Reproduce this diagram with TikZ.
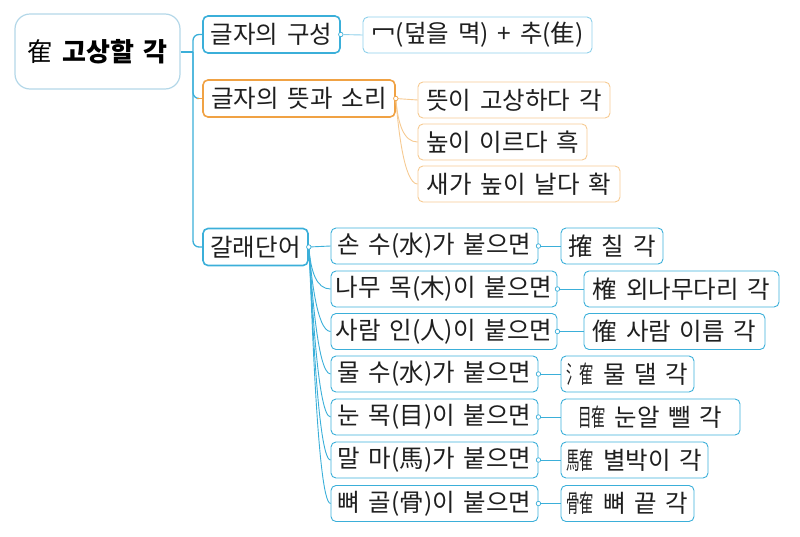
\documentclass[tikz,border=0pt]{standalone}
\usepackage{fontspec}
\setmainfont[WordSpace=1.6]{Noto Sans CJK KR}
\definecolor{mapblue}{HTML}{3BAFD9}
\definecolor{paleblue}{HTML}{8ED0EA}
\definecolor{rootline}{HTML}{B3D7E8}
\definecolor{maporange}{HTML}{F0A244}
\definecolor{paleorange}{HTML}{F6CA92}
\newcommand\hanjajoin[2]{\mbox{\scalebox{0.55}[1]{#1}\kern-0.03em\scalebox{0.6}[1]{#2}}}

\begin{document}
\begin{tikzpicture}[x=1pt, y=-1pt,
  wordbox/.style={draw, rounded corners=5pt, line width=0.9pt, minimum height=36pt, inner sep=1pt,
    font=\fontsize{24.5}{26}\selectfont, text=black!88},
  topicbox/.style={wordbox, line width=1.6pt, minimum height=37pt},
  linkdot/.style={circle, draw, fill=white, inner sep=0pt, minimum size=4.5pt, line width=0.7pt},
  stem/.style={line width=1.3pt},
  twig/.style={line width=0.9pt}]
   \useasboundingbox (0,0) rectangle (800,536);
   \node[draw=rootline, line width=1.2pt, rounded corners=15pt, minimum width=165pt, minimum height=75pt,
     font=\fontsize{26}{28}\selectfont] (root) at (97.5,51.5) {隺 \textbf{고상할 각}};
   % first level
   \node[topicbox, draw=mapblue, minimum width=137pt] (comp) at (271.5,34.5) {글자의 구성};
   \node[topicbox, draw=maporange, minimum width=192pt] (sense) at (299,98.5) {글자의 뜻과 소리};
   \node[topicbox, draw=mapblue, minimum width=105pt] (family) at (255.5,247) {갈래단어};
   \coordinate (trunk) at (193,52);
   \draw[stem, mapblue] (root.east |- trunk) -- (trunk);
   \draw[stem, mapblue, rounded corners=6pt] (trunk) |- (comp.west);
   \draw[stem, mapblue, rounded corners=6pt] (trunk) |- (family.west);
   \draw[stem, mapblue, rounded corners=6pt] (trunk) |- ([xshift=-5pt]sense.west);
   \draw[stem, maporange] ([xshift=-5pt]sense.west) -- (sense.west);
   % parts of the character
   \node[wordbox, draw=paleblue, minimum width=229pt] (parts) at (477.5,35) {冖(덮을 멱) + 추(隹)};
   \node[linkdot, draw=mapblue] (compdot) at (comp.east) {};
   \draw[twig, paleblue] (compdot) -- (parts.west);
   % meaning and sound
   \node[wordbox, draw=paleorange, minimum width=192pt] (sensea) at (514,100) {뜻이 고상하다 각};
   \node[wordbox, draw=paleorange, minimum width=169pt] (senseb) at (502.5,142) {높이 이르다 흑};
   \node[wordbox, draw=paleorange, minimum width=202pt] (sensec) at (519,184) {새가 높이 날다 확};
   \coordinate (sensedot) at (sense.east);
   \draw[twig, paleorange] (sensedot) -- (sensea.west);
   \foreach \kid in {senseb, sensec}
     \draw[twig, paleorange] (sensedot) .. controls +(2,25) and +(-14,0) .. (\kid.west);
   \node[linkdot, draw=maporange] at (sensedot) {};
   % derived words
   \node[wordbox, draw=mapblue, minimum width=207pt] (hand) at (434.5,246) {손 수(水)가 붙으면};
   \node[wordbox, draw=mapblue, minimum width=226pt] (tree) at (444,289) {나무 목(木)이 붙으면};
   \node[wordbox, draw=mapblue, minimum width=226pt] (person) at (444,331.5) {사람 인(人)이 붙으면};
   \node[wordbox, draw=mapblue, minimum width=207pt] (water) at (434.5,374) {물 수(水)가 붙으면};
   \node[wordbox, draw=mapblue, minimum width=207pt] (eye) at (434.5,417) {눈 목(目)이 붙으면};
   \node[wordbox, draw=mapblue, minimum width=207pt] (horse) at (434.5,460) {말 마(馬)가 붙으면};
   \node[wordbox, draw=mapblue, minimum width=207pt] (bone) at (434.5,503.5) {뼈 골(骨)이 붙으면};
   \coordinate (familydot) at (family.east);
   \draw[twig, mapblue] (familydot) -- (hand.west);
   \foreach \kid in {tree, person, water, eye, horse, bone}
     \draw[twig, mapblue] (familydot) .. controls +(2,25) and +(-14,0) .. (\kid.west);
   \node[linkdot, draw=mapblue] at (familydot) {};
   \node[wordbox, draw=mapblue, minimum width=102pt] (handword) at (612,246) {搉 칠 각};
   \node[wordbox, draw=mapblue, minimum width=195pt] (treeword) at (681.5,289) {榷 외나무다리 각};
   \node[wordbox, draw=mapblue, minimum width=181pt] (personword) at (674.5,331.5) {傕 사람 이름 각};
   \node[wordbox, draw=mapblue, minimum width=133pt] (waterword) at (627.5,374) {\hanjajoin{氵}{隺} 물 댈 각};
   \node[wordbox, draw=mapblue, minimum width=179pt] (eyeword) at (650.5,417) {\hanjajoin{目}{隺} 눈알 뺄 각};
   \node[wordbox, draw=mapblue, minimum width=147pt] (horseword) at (634.5,460) {\hanjajoin{馬}{隺} 별박이 각};
   \node[wordbox, draw=mapblue, minimum width=133pt] (boneword) at (627.5,503.5) {\hanjajoin{骨}{隺} 뼈 끝 각};
   \foreach \kid in {hand, tree, person, water, eye, horse, bone} {
     \node[linkdot, draw=mapblue] (\kid dot) at (\kid.east) {};
     \draw[twig, mapblue] (\kid dot) -- (\kid word.west);
   }
\end{tikzpicture}
\end{document}
